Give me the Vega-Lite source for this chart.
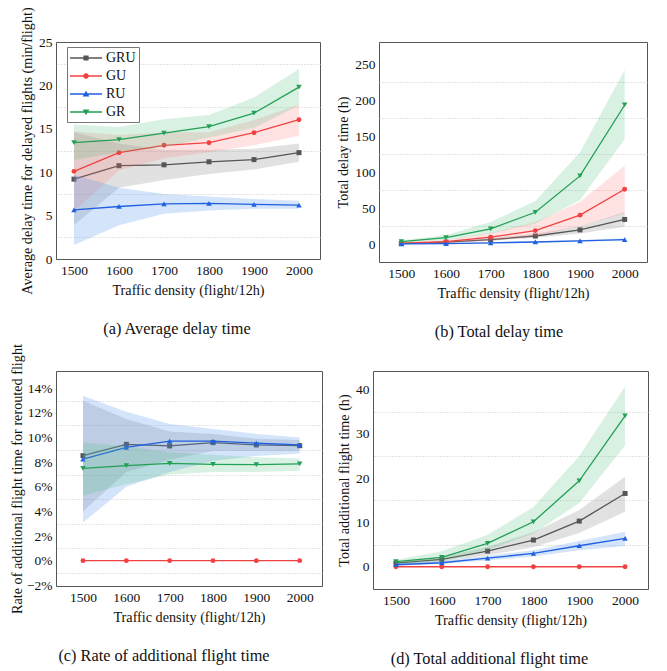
{
"$schema": "https://vega.github.io/schema/vega-lite/v6.json",
"padding": {"left": 9, "top": 6, "right": 0, "bottom": 0},
"data": {"values": [
{"p":"a","s":"GRU","x":1500,"m":9.2,"lo":3.9,"hi":14.6},{"p":"a","s":"GRU","x":1600,"m":10.75,"lo":8.2,"hi":13.3},{"p":"a","s":"GRU","x":1700,"m":10.85,"lo":9.1,"hi":12.6},{"p":"a","s":"GRU","x":1800,"m":11.2,"lo":9.8,"hi":12.6},{"p":"a","s":"GRU","x":1900,"m":11.45,"lo":10.3,"hi":12.7},{"p":"a","s":"GRU","x":2000,"m":12.25,"lo":11.2,"hi":13.3},
{"p":"a","s":"GU","x":1500,"m":10.1,"lo":5.5,"hi":14.7},{"p":"a","s":"GU","x":1600,"m":12.25,"lo":10.2,"hi":14.3},{"p":"a","s":"GU","x":1700,"m":13.1,"lo":11.6,"hi":14.6},{"p":"a","s":"GU","x":1800,"m":13.4,"lo":12.3,"hi":14.6},{"p":"a","s":"GU","x":1900,"m":14.55,"lo":13.1,"hi":16.0},{"p":"a","s":"GU","x":2000,"m":16.05,"lo":14.2,"hi":17.8},
{"p":"a","s":"RU","x":1500,"m":5.65,"lo":1.6,"hi":9.7},{"p":"a","s":"RU","x":1600,"m":6.05,"lo":3.9,"hi":8.2},{"p":"a","s":"RU","x":1700,"m":6.35,"lo":5.2,"hi":7.5},{"p":"a","s":"RU","x":1800,"m":6.4,"lo":5.6,"hi":7.2},{"p":"a","s":"RU","x":1900,"m":6.3,"lo":5.8,"hi":6.9},{"p":"a","s":"RU","x":2000,"m":6.2,"lo":5.8,"hi":6.7},
{"p":"a","s":"GR","x":1500,"m":13.4,"lo":11.4,"hi":15.5},{"p":"a","s":"GR","x":1600,"m":13.75,"lo":12.3,"hi":15.2},{"p":"a","s":"GR","x":1700,"m":14.5,"lo":12.9,"hi":16.1},{"p":"a","s":"GR","x":1800,"m":15.25,"lo":14.0,"hi":16.6},{"p":"a","s":"GR","x":1900,"m":16.8,"lo":15.1,"hi":18.6},{"p":"a","s":"GR","x":2000,"m":19.8,"lo":17.7,"hi":21.9},
{"p":"b","s":"GRU","x":1500,"m":1.0,"lo":0.5,"hi":1.5},{"p":"b","s":"GRU","x":1600,"m":3.0,"lo":2,"hi":4},{"p":"b","s":"GRU","x":1700,"m":6.5,"lo":5,"hi":8.5},{"p":"b","s":"GRU","x":1800,"m":11.5,"lo":9,"hi":14.5},{"p":"b","s":"GRU","x":1900,"m":20,"lo":15,"hi":25},{"p":"b","s":"GRU","x":2000,"m":34.5,"lo":24.5,"hi":45},
{"p":"b","s":"GU","x":1500,"m":1.5,"lo":0.5,"hi":3},{"p":"b","s":"GU","x":1600,"m":3.6,"lo":1.5,"hi":6},{"p":"b","s":"GU","x":1700,"m":10,"lo":5,"hi":16},{"p":"b","s":"GU","x":1800,"m":19,"lo":11,"hi":31},{"p":"b","s":"GU","x":1900,"m":40.5,"lo":25,"hi":59},{"p":"b","s":"GU","x":2000,"m":76.5,"lo":43,"hi":109},
{"p":"b","s":"RU","x":1500,"m":0.5,"lo":0,"hi":1},{"p":"b","s":"RU","x":1600,"m":1.0,"lo":0.5,"hi":1.6},{"p":"b","s":"RU","x":1700,"m":2.0,"lo":1.2,"hi":2.8},{"p":"b","s":"RU","x":1800,"m":3.2,"lo":2.2,"hi":4.2},{"p":"b","s":"RU","x":1900,"m":4.8,"lo":3.5,"hi":6.1},{"p":"b","s":"RU","x":2000,"m":6.5,"lo":4.8,"hi":8.3},
{"p":"b","s":"GR","x":1500,"m":3.8,"lo":2,"hi":5.5},{"p":"b","s":"GR","x":1600,"m":9.2,"lo":6,"hi":13},{"p":"b","s":"GR","x":1700,"m":21.5,"lo":15,"hi":31},{"p":"b","s":"GR","x":1800,"m":44.5,"lo":29,"hi":60},{"p":"b","s":"GR","x":1900,"m":95,"lo":61.5,"hi":128},{"p":"b","s":"GR","x":2000,"m":193.5,"lo":146,"hi":242},
{"p":"c","s":"GRU","x":1500,"m":0.0853,"lo":0.040,"hi":0.130},{"p":"c","s":"GRU","x":1600,"m":0.0945,"lo":0.072,"hi":0.115},{"p":"c","s":"GRU","x":1700,"m":0.0932,"lo":0.082,"hi":0.105},{"p":"c","s":"GRU","x":1800,"m":0.0959,"lo":0.089,"hi":0.103},{"p":"c","s":"GRU","x":1900,"m":0.094,"lo":0.089,"hi":0.099},{"p":"c","s":"GRU","x":2000,"m":0.0934,"lo":0.089,"hi":0.098},
{"p":"c","s":"GU","x":1500,"m":0,"lo":0,"hi":0},{"p":"c","s":"GU","x":1600,"m":0,"lo":0,"hi":0},{"p":"c","s":"GU","x":1700,"m":0,"lo":0,"hi":0},{"p":"c","s":"GU","x":1800,"m":0,"lo":0,"hi":0},{"p":"c","s":"GU","x":1900,"m":0,"lo":0,"hi":0},{"p":"c","s":"GU","x":2000,"m":0,"lo":0,"hi":0},
{"p":"c","s":"RU","x":1500,"m":0.0824,"lo":0.031,"hi":0.134},{"p":"c","s":"RU","x":1600,"m":0.0921,"lo":0.060,"hi":0.121},{"p":"c","s":"RU","x":1700,"m":0.0972,"lo":0.072,"hi":0.111},{"p":"c","s":"RU","x":1800,"m":0.0972,"lo":0.081,"hi":0.107},{"p":"c","s":"RU","x":1900,"m":0.0954,"lo":0.085,"hi":0.103},{"p":"c","s":"RU","x":2000,"m":0.094,"lo":0.087,"hi":0.100},
{"p":"c","s":"GR","x":1500,"m":0.075,"lo":0.053,"hi":0.096},{"p":"c","s":"GR","x":1600,"m":0.0772,"lo":0.062,"hi":0.093},{"p":"c","s":"GR","x":1700,"m":0.0791,"lo":0.070,"hi":0.088},{"p":"c","s":"GR","x":1800,"m":0.0783,"lo":0.072,"hi":0.086},{"p":"c","s":"GR","x":1900,"m":0.078,"lo":0.072,"hi":0.084},{"p":"c","s":"GR","x":2000,"m":0.0786,"lo":0.073,"hi":0.083},
{"p":"d","s":"GRU","x":1500,"m":0.8,"lo":0.5,"hi":1.1},{"p":"d","s":"GRU","x":1600,"m":1.67,"lo":1.1,"hi":2.2},{"p":"d","s":"GRU","x":1700,"m":3.54,"lo":2.6,"hi":4.5},{"p":"d","s":"GRU","x":1800,"m":6.02,"lo":4.4,"hi":7.8},{"p":"d","s":"GRU","x":1900,"m":10.3,"lo":7.6,"hi":12.8},{"p":"d","s":"GRU","x":2000,"m":16.55,"lo":12.4,"hi":20.3},
{"p":"d","s":"GU","x":1500,"m":0,"lo":0,"hi":0},{"p":"d","s":"GU","x":1600,"m":0,"lo":0,"hi":0},{"p":"d","s":"GU","x":1700,"m":0,"lo":0,"hi":0},{"p":"d","s":"GU","x":1800,"m":0,"lo":0,"hi":0},{"p":"d","s":"GU","x":1900,"m":0,"lo":0,"hi":0},{"p":"d","s":"GU","x":2000,"m":0,"lo":0,"hi":0},
{"p":"d","s":"RU","x":1500,"m":0.45,"lo":0.2,"hi":0.7},{"p":"d","s":"RU","x":1600,"m":0.9,"lo":0.6,"hi":1.2},{"p":"d","s":"RU","x":1700,"m":1.96,"lo":1.4,"hi":2.5},{"p":"d","s":"RU","x":1800,"m":3.0,"lo":2.3,"hi":3.7},{"p":"d","s":"RU","x":1900,"m":4.74,"lo":3.7,"hi":5.8},{"p":"d","s":"RU","x":2000,"m":6.4,"lo":4.7,"hi":7.9},
{"p":"d","s":"GR","x":1500,"m":1.13,"lo":0.6,"hi":1.6},{"p":"d","s":"GR","x":1600,"m":2.1,"lo":1.2,"hi":3.5},{"p":"d","s":"GR","x":1700,"m":5.27,"lo":3.7,"hi":7.2},{"p":"d","s":"GR","x":1800,"m":10.15,"lo":7.5,"hi":13.5},{"p":"d","s":"GR","x":1900,"m":19.4,"lo":14.4,"hi":25},{"p":"d","s":"GR","x":2000,"m":34.05,"lo":27.4,"hi":40.7}
]},
"columns": 1,
"align": "none",
"spacing": 2,
"concat": [
{"hconcat": [
{"width": 264, "height": 217, "transform": [{"filter": "datum.p == 'a'"}],
 "title": {"text": "(a) Average delay time", "orient": "bottom", "dx": -11},
 "resolve": {"axis": {"y": "independent"}},
 "layer": [
  {"transform": [{"filter": "datum.x < 0"}], "mark": {"type": "point", "filled": true, "opacity": 1},
   "encoding": {"x": {"field": "x", "type": "quantitative", "scale": {"domain": [1460, 2046.7], "nice": false, "zero": false}, "title": "Traffic density (flight/12h)", "axis": {"values": [1500, 1600, 1700, 1800, 1900, 2000]}},
    "y": {"field": "m", "type": "quantitative", "scale": {"domain": [0, 25], "nice": false, "zero": false}, "axis": {"orient": "right", "values": [2.5, 7.5, 12.5, 17.5, 22.5], "tickCount": 30, "labels": false, "ticks": false, "domain": false, "title": null, "gridDash": [1, 2], "gridColor": "#c8c8c8", "gridWidth": 1}},
    "color": {"field": "s", "type": "nominal", "scale": {"domain": ["GRU", "GU", "RU", "GR"], "range": ["#555555", "#f24141", "#1f5fe0", "#22a055"]}, "legend": {"orient": "none", "legendX": 11, "legendY": 5, "title": null}},
    "shape": {"field": "s", "type": "nominal", "scale": {"domain": ["GRU", "GU", "RU", "GR"], "range": ["M-1,-0.09H3V0.09H-1Z M0.675,-0.325H1.325V0.325H0.675Z", "M-1,-0.09H3V0.09H-1Z M0.65,0A0.35,0.35 0 1,1 1.35,0A0.35,0.35 0 1,1 0.65,0Z", "M-1,-0.09H3V0.09H-1Z M1,-0.42L1.42,0.3H0.58Z", "M-1,-0.09H3V0.09H-1Z M0.58,-0.3H1.42L1,0.42Z"]}}}},
  {"layer": [
   {"transform": [{"filter": "datum.s == 'GRU'"}], "mark": {"type": "area", "color": "#9a9a9a", "opacity": 0.3},
    "encoding": {"x": {"field": "x", "type": "quantitative", "scale": {"domain": [1460, 2046.7], "nice": false, "zero": false}, "title": "Traffic density (flight/12h)"},
     "y": {"field": "lo", "type": "quantitative", "scale": {"domain": [0, 25], "nice": false, "zero": false}, "title": "Average delay time for delayed flights (min/flight)", "axis": {"orient": "left", "values": [0, 5, 10, 15, 20, 25], "tickCount": 30}}, "y2": {"field": "hi"}}},
   {"transform": [{"filter": "datum.s == 'GRU'"}], "mark": {"type": "line", "color": "#555555", "strokeWidth": 1.3, "point": {"shape": "square", "filled": true, "size": 25, "color": "#555555", "opacity": 1}},
    "encoding": {"x": {"field": "x", "type": "quantitative", "title": "Traffic density (flight/12h)"}, "y": {"field": "m", "type": "quantitative", "title": "Average delay time for delayed flights (min/flight)"}}},
   {"transform": [{"filter": "datum.s == 'GU'"}], "mark": {"type": "area", "color": "#ff7070", "opacity": 0.2},
    "encoding": {"x": {"field": "x", "type": "quantitative", "title": "Traffic density (flight/12h)"}, "y": {"field": "lo", "type": "quantitative", "title": "Average delay time for delayed flights (min/flight)"}, "y2": {"field": "hi"}}},
   {"transform": [{"filter": "datum.s == 'GU'"}], "mark": {"type": "line", "color": "#f24141", "strokeWidth": 1.3, "point": {"shape": "circle", "filled": true, "size": 24, "color": "#f24141", "opacity": 1}},
    "encoding": {"x": {"field": "x", "type": "quantitative", "title": "Traffic density (flight/12h)"}, "y": {"field": "m", "type": "quantitative", "title": "Average delay time for delayed flights (min/flight)"}}},
   {"transform": [{"filter": "datum.s == 'RU'"}], "mark": {"type": "area", "color": "#5599f0", "opacity": 0.25},
    "encoding": {"x": {"field": "x", "type": "quantitative", "title": "Traffic density (flight/12h)"}, "y": {"field": "lo", "type": "quantitative", "title": "Average delay time for delayed flights (min/flight)"}, "y2": {"field": "hi"}}},
   {"transform": [{"filter": "datum.s == 'RU'"}], "mark": {"type": "line", "color": "#1f5fe0", "strokeWidth": 1.3, "point": {"shape": "triangle-up", "filled": true, "size": 30, "color": "#1f5fe0", "opacity": 1}},
    "encoding": {"x": {"field": "x", "type": "quantitative", "title": "Traffic density (flight/12h)"}, "y": {"field": "m", "type": "quantitative", "title": "Average delay time for delayed flights (min/flight)"}}},
   {"transform": [{"filter": "datum.s == 'GR'"}], "mark": {"type": "area", "color": "#50c080", "opacity": 0.22},
    "encoding": {"x": {"field": "x", "type": "quantitative", "title": "Traffic density (flight/12h)"}, "y": {"field": "lo", "type": "quantitative", "title": "Average delay time for delayed flights (min/flight)"}, "y2": {"field": "hi"}}},
   {"transform": [{"filter": "datum.s == 'GR'"}], "mark": {"type": "line", "color": "#22a055", "strokeWidth": 1.3, "point": {"shape": "triangle-down", "filled": true, "size": 30, "color": "#22a055", "opacity": 1}},
    "encoding": {"x": {"field": "x", "type": "quantitative", "title": "Traffic density (flight/12h)"}, "y": {"field": "m", "type": "quantitative", "title": "Average delay time for delayed flights (min/flight)"}}}
  ]}
 ]},
{"width": 268, "height": 220, "transform": [{"filter": "datum.p == 'b'"}],
 "title": {"text": "(b) Total delay time", "orient": "bottom", "dx": -14},
 "resolve": {"axis": {"y": "independent"}},
 "layer": [
  {"transform": [{"filter": "datum.x < 0"}], "mark": {"type": "point", "filled": true, "opacity": 1},
   "encoding": {"x": {"field": "x", "type": "quantitative", "scale": {"domain": [1450, 2050], "nice": false, "zero": false}, "title": "Traffic density (flight/12h)", "axis": {"values": [1500, 1600, 1700, 1800, 1900, 2000]}},
    "y": {"field": "m", "type": "quantitative", "scale": {"domain": [-24.6, 281], "nice": false, "zero": false}, "axis": {"orient": "right", "values": [25, 75, 125, 175, 225], "tickCount": 30, "labels": false, "ticks": false, "domain": false, "title": null, "gridDash": [1, 2], "gridColor": "#c8c8c8", "gridWidth": 1}},
    "color": {"field": "s", "type": "nominal", "scale": {"domain": ["GRU", "GU", "RU", "GR"], "range": ["#555555", "#f24141", "#1f5fe0", "#22a055"]}, "legend": {"orient": "none", "legendX": 16, "legendY": 17, "title": null}},
    "shape": {"field": "s", "type": "nominal", "scale": {"domain": ["GRU", "GU", "RU", "GR"], "range": ["M-1,-0.09H3V0.09H-1Z M0.675,-0.325H1.325V0.325H0.675Z", "M-1,-0.09H3V0.09H-1Z M0.65,0A0.35,0.35 0 1,1 1.35,0A0.35,0.35 0 1,1 0.65,0Z", "M-1,-0.09H3V0.09H-1Z M1,-0.42L1.42,0.3H0.58Z", "M-1,-0.09H3V0.09H-1Z M0.58,-0.3H1.42L1,0.42Z"]}}}},
  {"layer": [
   {"transform": [{"filter": "datum.s == 'GRU'"}], "mark": {"type": "area", "color": "#9a9a9a", "opacity": 0.3},
    "encoding": {"x": {"field": "x", "type": "quantitative", "scale": {"domain": [1450, 2050], "nice": false, "zero": false}, "title": "Traffic density (flight/12h)"},
     "y": {"field": "lo", "type": "quantitative", "scale": {"domain": [-24.6, 281], "nice": false, "zero": false}, "title": "Total delay time (h)", "axis": {"orient": "left", "values": [0, 50, 100, 150, 200, 250], "tickCount": 30}}, "y2": {"field": "hi"}}},
   {"transform": [{"filter": "datum.s == 'GRU'"}], "mark": {"type": "line", "color": "#555555", "strokeWidth": 1.3, "point": {"shape": "square", "filled": true, "size": 25, "color": "#555555", "opacity": 1}},
    "encoding": {"x": {"field": "x", "type": "quantitative", "title": "Traffic density (flight/12h)"}, "y": {"field": "m", "type": "quantitative", "title": "Total delay time (h)"}}},
   {"transform": [{"filter": "datum.s == 'GU'"}], "mark": {"type": "area", "color": "#ff7070", "opacity": 0.2},
    "encoding": {"x": {"field": "x", "type": "quantitative", "title": "Traffic density (flight/12h)"}, "y": {"field": "lo", "type": "quantitative", "title": "Total delay time (h)"}, "y2": {"field": "hi"}}},
   {"transform": [{"filter": "datum.s == 'GU'"}], "mark": {"type": "line", "color": "#f24141", "strokeWidth": 1.3, "point": {"shape": "circle", "filled": true, "size": 24, "color": "#f24141", "opacity": 1}},
    "encoding": {"x": {"field": "x", "type": "quantitative", "title": "Traffic density (flight/12h)"}, "y": {"field": "m", "type": "quantitative", "title": "Total delay time (h)"}}},
   {"transform": [{"filter": "datum.s == 'RU'"}], "mark": {"type": "area", "color": "#5599f0", "opacity": 0.25},
    "encoding": {"x": {"field": "x", "type": "quantitative", "title": "Traffic density (flight/12h)"}, "y": {"field": "lo", "type": "quantitative", "title": "Total delay time (h)"}, "y2": {"field": "hi"}}},
   {"transform": [{"filter": "datum.s == 'RU'"}], "mark": {"type": "line", "color": "#1f5fe0", "strokeWidth": 1.3, "point": {"shape": "triangle-up", "filled": true, "size": 30, "color": "#1f5fe0", "opacity": 1}},
    "encoding": {"x": {"field": "x", "type": "quantitative", "title": "Traffic density (flight/12h)"}, "y": {"field": "m", "type": "quantitative", "title": "Total delay time (h)"}}},
   {"transform": [{"filter": "datum.s == 'GR'"}], "mark": {"type": "area", "color": "#50c080", "opacity": 0.22},
    "encoding": {"x": {"field": "x", "type": "quantitative", "title": "Traffic density (flight/12h)"}, "y": {"field": "lo", "type": "quantitative", "title": "Total delay time (h)"}, "y2": {"field": "hi"}}},
   {"transform": [{"filter": "datum.s == 'GR'"}], "mark": {"type": "line", "color": "#22a055", "strokeWidth": 1.3, "point": {"shape": "triangle-down", "filled": true, "size": 30, "color": "#22a055", "opacity": 1}},
    "encoding": {"x": {"field": "x", "type": "quantitative", "title": "Traffic density (flight/12h)"}, "y": {"field": "m", "type": "quantitative", "title": "Total delay time (h)"}}}
  ]}
 ]}
], "spacing": 59, "bounds": "flush"},
{"hconcat": [
{"width": 266, "height": 215, "transform": [{"filter": "datum.p == 'c'"}],
 "title": {"text": "(c) Rate of additional flight time", "orient": "bottom", "dx": -25},
 "resolve": {"axis": {"y": "independent"}},
 "layer": [
  {"transform": [{"filter": "datum.x < 0"}], "mark": {"type": "point", "filled": true, "opacity": 1},
   "encoding": {"x": {"field": "x", "type": "quantitative", "scale": {"domain": [1437.7, 2051.5], "nice": false, "zero": false}, "title": "Traffic density (flight/12h)", "axis": {"values": [1500, 1600, 1700, 1800, 1900, 2000]}},
    "y": {"field": "m", "type": "quantitative", "scale": {"domain": [-0.0206, 0.1541], "nice": false, "zero": false}, "axis": {"orient": "right", "values": [-0.01, 0.01, 0.03, 0.05, 0.07, 0.09, 0.11, 0.13], "tickCount": 30, "labels": false, "ticks": false, "domain": false, "title": null, "gridDash": [1, 2], "gridColor": "#c8c8c8", "gridWidth": 1}},
    "color": {"field": "s", "type": "nominal", "scale": {"domain": ["GRU", "GU", "RU", "GR"], "range": ["#555555", "#f24141", "#1f5fe0", "#22a055"]}, "legend": {"orient": "none", "legendX": 179, "legendY": 108, "title": null}},
    "shape": {"field": "s", "type": "nominal", "scale": {"domain": ["GRU", "GU", "RU", "GR"], "range": ["M-1,-0.09H3V0.09H-1Z M0.675,-0.325H1.325V0.325H0.675Z", "M-1,-0.09H3V0.09H-1Z M0.65,0A0.35,0.35 0 1,1 1.35,0A0.35,0.35 0 1,1 0.65,0Z", "M-1,-0.09H3V0.09H-1Z M1,-0.42L1.42,0.3H0.58Z", "M-1,-0.09H3V0.09H-1Z M0.58,-0.3H1.42L1,0.42Z"]}}}},
  {"layer": [
   {"transform": [{"filter": "datum.s == 'GRU'"}], "mark": {"type": "area", "color": "#9a9a9a", "opacity": 0.3},
    "encoding": {"x": {"field": "x", "type": "quantitative", "scale": {"domain": [1437.7, 2051.5], "nice": false, "zero": false}, "title": "Traffic density (flight/12h)"},
     "y": {"field": "lo", "type": "quantitative", "scale": {"domain": [-0.0206, 0.1541], "nice": false, "zero": false}, "title": "Rate of additional flight time for rerouted flight", "axis": {"orient": "left", "values": [-0.02, 0, 0.02, 0.04, 0.06, 0.08, 0.1, 0.12, 0.14], "tickCount": 30, "format": ".0%", "titlePadding": 2}}, "y2": {"field": "hi"}}},
   {"transform": [{"filter": "datum.s == 'GRU'"}], "mark": {"type": "line", "color": "#555555", "strokeWidth": 1.3, "point": {"shape": "square", "filled": true, "size": 25, "color": "#555555", "opacity": 1}},
    "encoding": {"x": {"field": "x", "type": "quantitative", "title": "Traffic density (flight/12h)"}, "y": {"field": "m", "type": "quantitative", "title": "Rate of additional flight time for rerouted flight"}}},
   {"transform": [{"filter": "datum.s == 'GU'"}], "mark": {"type": "line", "color": "#f24141", "strokeWidth": 1.3, "point": {"shape": "circle", "filled": true, "size": 24, "color": "#f24141", "opacity": 1}},
    "encoding": {"x": {"field": "x", "type": "quantitative", "title": "Traffic density (flight/12h)"}, "y": {"field": "m", "type": "quantitative", "title": "Rate of additional flight time for rerouted flight"}}},
   {"transform": [{"filter": "datum.s == 'RU'"}], "mark": {"type": "area", "color": "#5599f0", "opacity": 0.25},
    "encoding": {"x": {"field": "x", "type": "quantitative", "title": "Traffic density (flight/12h)"}, "y": {"field": "lo", "type": "quantitative", "title": "Rate of additional flight time for rerouted flight"}, "y2": {"field": "hi"}}},
   {"transform": [{"filter": "datum.s == 'RU'"}], "mark": {"type": "line", "color": "#1f5fe0", "strokeWidth": 1.3, "point": {"shape": "triangle-up", "filled": true, "size": 30, "color": "#1f5fe0", "opacity": 1}},
    "encoding": {"x": {"field": "x", "type": "quantitative", "title": "Traffic density (flight/12h)"}, "y": {"field": "m", "type": "quantitative", "title": "Rate of additional flight time for rerouted flight"}}},
   {"transform": [{"filter": "datum.s == 'GR'"}], "mark": {"type": "area", "color": "#50c080", "opacity": 0.22},
    "encoding": {"x": {"field": "x", "type": "quantitative", "title": "Traffic density (flight/12h)"}, "y": {"field": "lo", "type": "quantitative", "title": "Rate of additional flight time for rerouted flight"}, "y2": {"field": "hi"}}},
   {"transform": [{"filter": "datum.s == 'GR'"}], "mark": {"type": "line", "color": "#22a055", "strokeWidth": 1.3, "point": {"shape": "triangle-down", "filled": true, "size": 30, "color": "#22a055", "opacity": 1}},
    "encoding": {"x": {"field": "x", "type": "quantitative", "title": "Traffic density (flight/12h)"}, "y": {"field": "m", "type": "quantitative", "title": "Rate of additional flight time for rerouted flight"}}}
  ]}
 ]},
{"width": 275, "height": 218, "transform": [{"filter": "datum.p == 'd'"}],
 "title": {"text": "(d) Total additional flight time", "orient": "bottom", "dx": -21},
 "resolve": {"axis": {"y": "independent"}},
 "layer": [
  {"transform": [{"filter": "datum.x < 0"}], "mark": {"type": "point", "filled": true, "opacity": 1},
   "encoding": {"x": {"field": "x", "type": "quantitative", "scale": {"domain": [1450, 2050], "nice": false, "zero": false}, "title": "Traffic density (flight/12h)", "axis": {"values": [1500, 1600, 1700, 1800, 1900, 2000]}},
    "y": {"field": "m", "type": "quantitative", "scale": {"domain": [-5.03, 44.2], "nice": false, "zero": false}, "axis": {"orient": "right", "values": [5, 15, 25, 35], "tickCount": 30, "labels": false, "ticks": false, "domain": false, "title": null, "gridDash": [1, 2], "gridColor": "#c8c8c8", "gridWidth": 1}},
    "color": {"field": "s", "type": "nominal", "scale": {"domain": ["GRU", "GU", "RU", "GR"], "range": ["#555555", "#f24141", "#1f5fe0", "#22a055"]}, "legend": {"orient": "none", "legendX": 16, "legendY": 9, "title": null}},
    "shape": {"field": "s", "type": "nominal", "scale": {"domain": ["GRU", "GU", "RU", "GR"], "range": ["M-1,-0.09H3V0.09H-1Z M0.675,-0.325H1.325V0.325H0.675Z", "M-1,-0.09H3V0.09H-1Z M0.65,0A0.35,0.35 0 1,1 1.35,0A0.35,0.35 0 1,1 0.65,0Z", "M-1,-0.09H3V0.09H-1Z M1,-0.42L1.42,0.3H0.58Z", "M-1,-0.09H3V0.09H-1Z M0.58,-0.3H1.42L1,0.42Z"]}}}},
  {"layer": [
   {"transform": [{"filter": "datum.s == 'GRU'"}], "mark": {"type": "area", "color": "#9a9a9a", "opacity": 0.3},
    "encoding": {"x": {"field": "x", "type": "quantitative", "scale": {"domain": [1450, 2050], "nice": false, "zero": false}, "title": "Traffic density (flight/12h)"},
     "y": {"field": "lo", "type": "quantitative", "scale": {"domain": [-5.03, 44.2], "nice": false, "zero": false}, "title": "Total additional flight time (h)", "axis": {"orient": "left", "values": [0, 10, 20, 30, 40], "tickCount": 30}}, "y2": {"field": "hi"}}},
   {"transform": [{"filter": "datum.s == 'GRU'"}], "mark": {"type": "line", "color": "#555555", "strokeWidth": 1.3, "point": {"shape": "square", "filled": true, "size": 25, "color": "#555555", "opacity": 1}},
    "encoding": {"x": {"field": "x", "type": "quantitative", "title": "Traffic density (flight/12h)"}, "y": {"field": "m", "type": "quantitative", "title": "Total additional flight time (h)"}}},
   {"transform": [{"filter": "datum.s == 'GU'"}], "mark": {"type": "line", "color": "#f24141", "strokeWidth": 1.3, "point": {"shape": "circle", "filled": true, "size": 24, "color": "#f24141", "opacity": 1}},
    "encoding": {"x": {"field": "x", "type": "quantitative", "title": "Traffic density (flight/12h)"}, "y": {"field": "m", "type": "quantitative", "title": "Total additional flight time (h)"}}},
   {"transform": [{"filter": "datum.s == 'RU'"}], "mark": {"type": "area", "color": "#5599f0", "opacity": 0.25},
    "encoding": {"x": {"field": "x", "type": "quantitative", "title": "Traffic density (flight/12h)"}, "y": {"field": "lo", "type": "quantitative", "title": "Total additional flight time (h)"}, "y2": {"field": "hi"}}},
   {"transform": [{"filter": "datum.s == 'RU'"}], "mark": {"type": "line", "color": "#1f5fe0", "strokeWidth": 1.3, "point": {"shape": "triangle-up", "filled": true, "size": 30, "color": "#1f5fe0", "opacity": 1}},
    "encoding": {"x": {"field": "x", "type": "quantitative", "title": "Traffic density (flight/12h)"}, "y": {"field": "m", "type": "quantitative", "title": "Total additional flight time (h)"}}},
   {"transform": [{"filter": "datum.s == 'GR'"}], "mark": {"type": "area", "color": "#50c080", "opacity": 0.22},
    "encoding": {"x": {"field": "x", "type": "quantitative", "title": "Traffic density (flight/12h)"}, "y": {"field": "lo", "type": "quantitative", "title": "Total additional flight time (h)"}, "y2": {"field": "hi"}}},
   {"transform": [{"filter": "datum.s == 'GR'"}], "mark": {"type": "line", "color": "#22a055", "strokeWidth": 1.3, "point": {"shape": "triangle-down", "filled": true, "size": 30, "color": "#22a055", "opacity": 1}},
    "encoding": {"x": {"field": "x", "type": "quantitative", "title": "Traffic density (flight/12h)"}, "y": {"field": "m", "type": "quantitative", "title": "Total additional flight time (h)"}}}
  ]}
 ]}
], "spacing": 51, "bounds": "flush"}
],
"config": {
 "font": "Liberation Serif, Times New Roman, serif",
 "view": {"stroke": "#555555", "strokeWidth": 1},
 "title": {"font": "Liberation Serif, Times New Roman, serif", "fontSize": 16.3, "fontWeight": "normal", "color": "#111111", "offset": 23, "anchor": "middle"},
 "axis": {"labelFont": "Liberation Serif, Times New Roman, serif", "titleFont": "Liberation Serif, Times New Roman, serif", "labelFontSize": 13.5, "titleFontSize": 14.2, "titleFontWeight": "normal", "labelColor": "#111111", "titleColor": "#111111", "ticks": false, "domain": false, "labelFlush": false, "labelOverlap": false},
 "axisX": {"grid": false, "labelPadding": 4, "titlePadding": 7, "format": "d"},
 "axisY": {"grid": true, "gridColor": "#d4d4d4", "gridWidth": 1.4, "labelPadding": 4, "titlePadding": 4},
 "legend": {"labelFont": "Liberation Serif, Times New Roman, serif", "labelFontSize": 14, "labelColor": "#111111", "symbolSize": 256, "symbolStrokeWidth": 0, "labelOffset": 20, "padding": 3, "rowPadding": 3, "strokeColor": "#777777", "fillColor": "white", "cornerRadius": 0}
}
}
